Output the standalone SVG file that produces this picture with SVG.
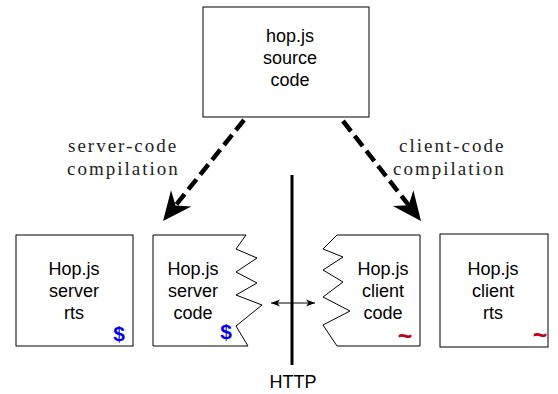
<svg xmlns="http://www.w3.org/2000/svg" width="558" height="394" viewBox="0 0 558 394">
<defs>
<style>
.box{fill:#fff;stroke:#000;stroke-width:1}
.t{font-family:"Liberation Sans",Arial,sans-serif;font-size:18px;fill:#000;text-anchor:middle}
.lbl{font-family:"Liberation Serif","Times New Roman",serif;font-size:19px;letter-spacing:2px;fill:#222}
.dollar{font-family:"Liberation Sans",Arial,sans-serif;font-weight:bold;font-size:21px;fill:#0000ee;text-anchor:middle}
.tilde{font-family:"Liberation Sans",Arial,sans-serif;font-weight:bold;font-size:25px;fill:#c00018;text-anchor:middle}
.dash{fill:none;stroke:#000;stroke-width:4.5;stroke-dasharray:13 6}
</style>
<marker id="bigArrow" markerUnits="userSpaceOnUse" viewBox="-31 -15 33 30" markerWidth="33" markerHeight="30" refX="-18" refY="0" orient="auto">
<path d="M0,0 L-29,-13 L-20,0 L-29,13 Z" fill="#000"/>
</marker>
<marker id="smallArrow" markerUnits="userSpaceOnUse" viewBox="-10 -5 12 10" markerWidth="12" markerHeight="10" refX="0" refY="0" orient="auto-start-reverse">
<path d="M0,0 L-9,-3.5 L-6.5,0 L-9,3.5 Z" fill="#000"/>
</marker>
</defs>

<g id="source">
<rect class="box" x="203" y="7" width="166" height="110"/>
<text class="t" x="290" y="42">hop.js</text>
<text class="t" x="290" y="64">source</text>
<text class="t" x="290" y="86">code</text>
</g>

<g id="server-rts">
<rect class="box" x="16" y="235" width="117" height="111"/>
<text class="t" x="74" y="275">Hop.js</text>
<text class="t" x="74" y="297">server</text>
<text class="t" x="74" y="319">rts</text>
<text class="dollar" x="119" y="341">$</text>
</g>

<g id="server-code">
<path class="box" d="M153,235 H246 L236,249 L257,258 L236,272 L257,283 L236,295 L262,305 L236,326 L248,346 H153 Z"/>
<text class="t" x="193" y="275">Hop.js</text>
<text class="t" x="193" y="297">server</text>
<text class="t" x="193" y="319">code</text>
<text class="dollar" x="226" y="339">$</text>
</g>

<g id="client-code">
<path class="box" d="M337,235 H420 V346 H337 L323,325 L350,311 L323,297 L343,282 L323,270 L343,257 L323,249 Z"/>
<text class="t" x="383" y="275">Hop.js</text>
<text class="t" x="383" y="297">client</text>
<text class="t" x="383" y="319">code</text>
<text class="tilde" x="405" y="345">~</text>
</g>

<g id="client-rts">
<rect class="box" x="440" y="234" width="108" height="113"/>
<text class="t" x="493" y="275">Hop.js</text>
<text class="t" x="493" y="297">client</text>
<text class="t" x="493" y="319">rts</text>
<text class="tilde" x="540" y="344">~</text>
</g>

<g id="http">
<line x1="292" y1="175" x2="292" y2="365" stroke="#000" stroke-width="3"/>
<text class="t" x="293" y="388">HTTP</text>
</g>

<g id="connectors">
<line class="dash" x1="244" y1="120" x2="174.3" y2="207" marker-end="url(#bigArrow)"/>
<line class="dash" x1="343" y1="121" x2="409.9" y2="206.8" marker-end="url(#bigArrow)"/>
<line x1="271" y1="303" x2="315" y2="303" stroke="#000" stroke-width="1" marker-start="url(#smallArrow)" marker-end="url(#smallArrow)"/>
<text class="lbl" x="68" y="152">server-code</text>
<text class="lbl" x="67" y="175">compilation</text>
<text class="lbl" x="399" y="152">client-code</text>
<text class="lbl" x="393" y="175">compilation</text>
</g>
</svg>
